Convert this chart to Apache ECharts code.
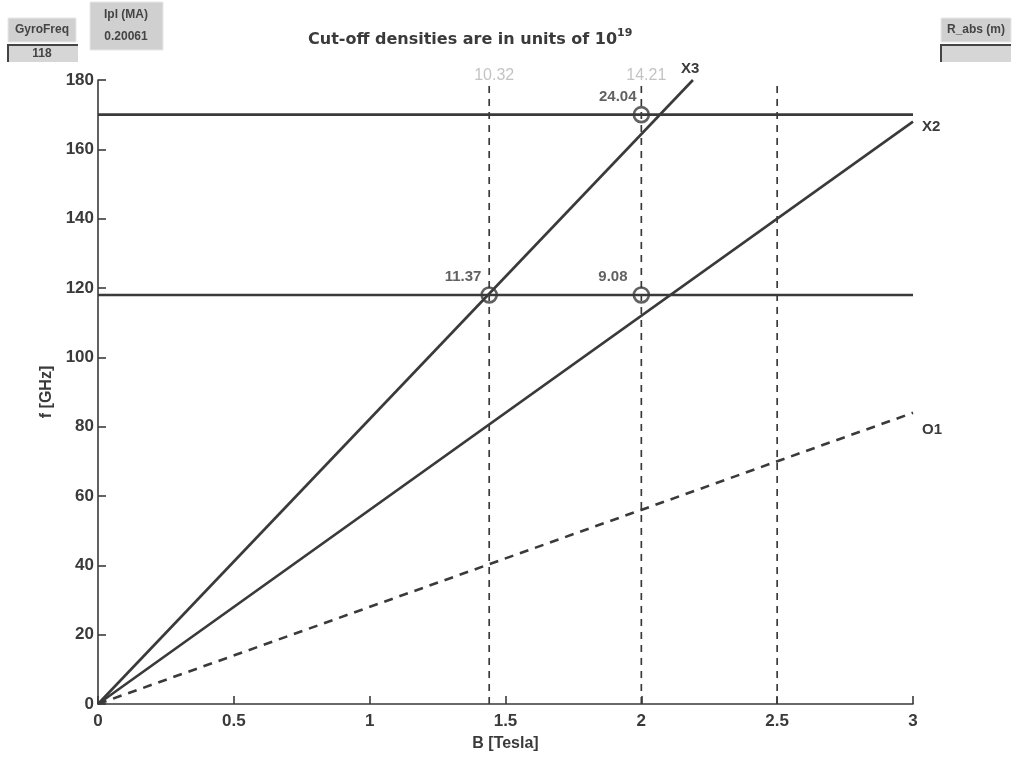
<!DOCTYPE html>
<html>
<head>
<meta charset="utf-8">
<script src="https://cdn.jsdelivr.net/npm/echarts@6/dist/echarts.min.js"></script>
<style>
  html, body { margin: 0; padding: 0; background: #fff; }
  #chart { width: 1015px; height: 760px; }
</style>
</head>
<body>
<div id="chart"></div>
<script>
// Wave branches: straight lines from the origin to their end points (B [T], f [GHz])
const branchNames = ['X3', 'X2', 'O1'];
const x3Line = [[0, 0], [2.19, 180]];
const x2Line = [[0, 0], [3, 168]];
const o1Line = [[0, 0], [3, 84]];

// Horizontal frequency lines (GHz) across the field range
const freqLevels = [118, 170];
const fieldRange = [0, 3];

// Vertical field markers (T) and the density printed above two of them
const fieldMarks = [1.44, 2.0, 2.5];
const markDensities = ['10.32', '14.21'];

// Cut-off points: [B, f] and their densities (units of 1e19)
const cutoffPoints = [[1.44, 118], [2.0, 118], [2.0, 170]];
const cutoffDensities = ['11.37', '9.08', '24.04'];

// Axis ticks
const xTicks = [0, 0.5, 1, 1.5, 2, 2.5, 3];
const yTicks = [0, 20, 40, 60, 80, 100, 120, 140, 160, 180];

// Control widgets
const gyroFreq = '118';
const iplValue = '0.20061';

const INK = '#3a3a3a';
const FONT = 'Liberation Sans, Arial, sans-serif';
// Horizontal gap (px) between each cut-off label and its circle
const cutoffLabelGap = [-1, 5, -4];

const chart = echarts.init(document.getElementById('chart'));

function branchSeries(name, pts, dashed, labelOffset) {
  return {
    type: 'line', name: name, silent: true, symbol: 'none',
    lineStyle: { color: INK, width: 2.6, type: dashed ? [9, 7] : 'solid' },
    endLabel: { show: true, formatter: name, distance: 6, offset: labelOffset,
                color: INK, fontSize: 15, fontWeight: 'bold', fontFamily: FONT },
    data: pts,
    z: 3
  };
}

const series = [
  branchSeries(branchNames[0], x3Line, false, [-18, -11]),
  branchSeries(branchNames[1], x2Line, false, [3, 5]),
  branchSeries(branchNames[2], o1Line, true, [3, 17])
];

freqLevels.forEach(f => series.push({
  type: 'line', silent: true, symbol: 'none',
  lineStyle: { color: INK, width: 2.6 },
  data: [[fieldRange[0], f], [fieldRange[1], f]], z: 3
}));

fieldMarks.forEach(b => series.push({
  type: 'line', silent: true, symbol: 'none',
  lineStyle: { color: INK, width: 1.7, type: [7, 6] },
  data: [[b, 0], [b, 180]], z: 2
}));

// Densities above the first two field markers
series.push({
  type: 'scatter', silent: true, symbolSize: 0,
  data: markDensities.map((d, i) => ({ value: [fieldMarks[i], 180], name: d })),
  label: { show: true, position: 'top', distance: -4, offset: [5, 0], formatter: p => p.name,
           color: '#b4b4b4', fontSize: 16, fontFamily: FONT }
});

// Cut-off circles with their densities
series.push({
  type: 'scatter', silent: true, symbol: 'circle', symbolSize: 15,
  itemStyle: { color: 'rgba(0,0,0,0)', borderColor: INK, borderWidth: 2.6 },
  data: cutoffPoints.map((p, i) => ({
    value: p, name: cutoffDensities[i],
    label: { distance: cutoffLabelGap[i] }
  })),
  label: { show: true, position: 'left', offset: [0, -18], formatter: p => p.name,
           color: INK, fontSize: 15, fontWeight: 'bold', fontFamily: FONT },
  z: 4
});

function button(x, y, w, h) {
  return { type: 'rect', shape: { x: x, y: y, width: w, height: h },
           style: { fill: '#d0d0d0', stroke: '#e8e8e8', lineWidth: 1 } };
}
function editBox(x, y, w, h) {
  return [
    { type: 'rect', shape: { x: x, y: y, width: w, height: h }, style: { fill: '#d6d6d6' } },
    { type: 'polyline', shape: { points: [[x, y + h], [x, y], [x + w, y]] },
      style: { stroke: '#444', lineWidth: 2, fill: null } }
  ];
}
function widgetText(x, y, t) {
  return { type: 'text', x: x, y: y,
           style: { text: t, fill: '#444', font: 'bold 12px ' + FONT, align: 'center', verticalAlign: 'middle' } };
}

const graphic = [
  button(8, 18, 68, 24), widgetText(42, 30, 'GyroFreq'),
  ...editBox(8, 45, 70, 17), widgetText(42, 54, gyroFreq),
  button(90, 2, 73, 48), widgetText(126, 15, 'Ipl (MA)'), widgetText(126, 37, iplValue),
  button(941, 18, 70, 24), widgetText(976, 30, 'R_abs (m)'),
  ...editBox(941, 45, 70, 17)
];

chart.setOption({
  animation: false,
  backgroundColor: '#fff',
  title: {
    text: '{t|Cut-off densities are in units of 10}{s|19}',
    left: 303, top: 23,
    textStyle: {
      rich: {
        t: { fontSize: 16, color: INK, fontFamily: 'DejaVu Sans', fontWeight: 'bold', verticalAlign: 'bottom' },
        s: { fontSize: 11, color: INK, fontFamily: 'DejaVu Sans', fontWeight: 'bold', verticalAlign: 'top', padding: [0, 0, 9, 0] }
      }
    }
  },
  grid: { left: 98, right: 102, top: 80, bottom: 56, containLabel: false },
  xAxis: {
    type: 'value', min: xTicks[0], max: xTicks[xTicks.length - 1], interval: 0.5,
    name: 'B [Tesla]', nameLocation: 'middle', nameGap: 32,
    nameTextStyle: { color: INK, fontSize: 16, fontWeight: 'bold', fontFamily: FONT },
    axisLine: { lineStyle: { color: INK, width: 1.6 } },
    axisTick: { inside: true, length: 8, lineStyle: { color: INK, width: 1.6 } },
    axisLabel: { color: INK, fontSize: 17, fontWeight: 'bold', fontFamily: FONT, margin: 9,
                 formatter: v => String(v) },
    splitLine: { show: false }
  },
  yAxis: {
    type: 'value', min: yTicks[0], max: yTicks[yTicks.length - 1], interval: 20,
    name: 'f [GHz]', nameLocation: 'middle', nameGap: 40, nameRotate: 90,
    nameTextStyle: { color: INK, fontSize: 16, fontWeight: 'bold', fontFamily: FONT },
    axisLine: { lineStyle: { color: INK, width: 1.6 } },
    axisTick: { inside: true, length: 8, lineStyle: { color: INK, width: 1.6 } },
    axisLabel: { color: INK, fontSize: 17, fontWeight: 'bold', fontFamily: FONT, margin: 4 },
    splitLine: { show: false }
  },
  graphic: graphic,
  series: series
});
</script>
</body>
</html>
